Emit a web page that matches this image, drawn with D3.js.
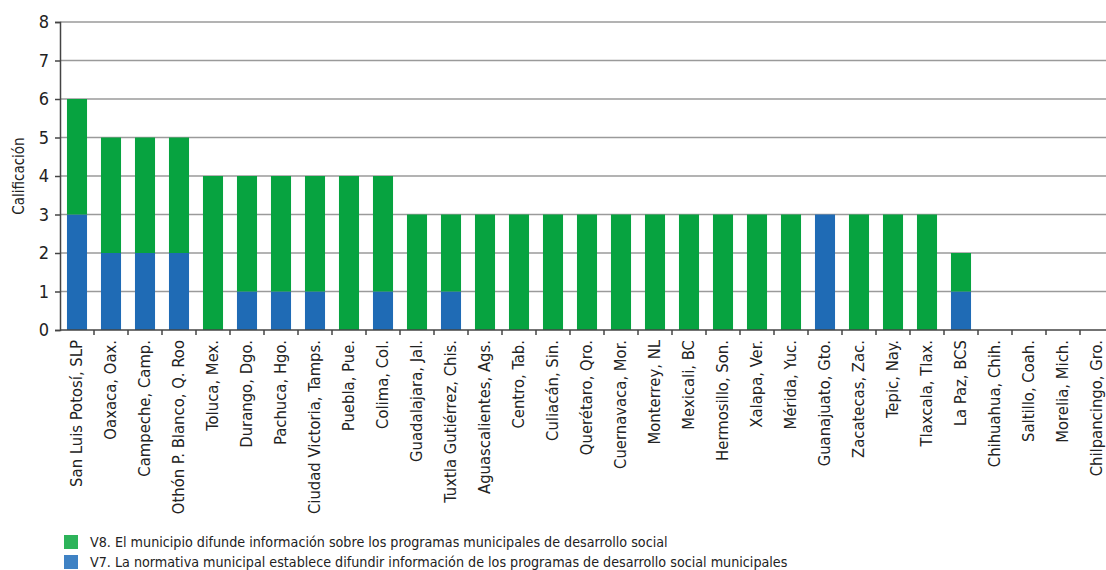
<!DOCTYPE html>
<html><head><meta charset="utf-8">
<script src="https://cdn.jsdelivr.net/npm/d3@7"></script>
<style>body{margin:0;background:#fff}svg{display:block}text{font-family:"Liberation Sans Narrow","DejaVu Sans Condensed",sans-serif;fill:#222}</style>
</head><body><svg id="c" width="1106" height="570"></svg>
<script>
const categories = ["San Luis Potosí, SLP","Oaxaca, Oax.","Campeche, Camp.","Othón P. Blanco, Q. Roo","Toluca, Mex.","Durango, Dgo.","Pachuca, Hgo.","Ciudad Victoria, Tamps.","Puebla, Pue.","Colima, Col.","Guadalajara, Jal.","Tuxtla Gutiérrez, Chis.","Aguascalientes, Ags.","Centro, Tab.","Culiacán, Sin.","Querétaro, Qro.","Cuernavaca, Mor.","Monterrey, NL","Mexicali, BC","Hermosillo, Son.","Xalapa, Ver.","Mérida, Yuc.","Guanajuato, Gto.","Zacatecas, Zac.","Tepic, Nay.","Tlaxcala, Tlax.","La Paz, BCS","Chihuahua, Chih.","Saltillo, Coah.","Morelia, Mich.","Chilpancingo, Gro."];
const v7 = [3,2,2,2,0,1,1,1,0,1,0,1,0,0,0,0,0,0,0,0,0,0,3,0,0,0,1,0,0,0,0];
const v8 = [3,3,3,3,4,3,3,3,4,3,3,2,3,3,3,3,3,3,3,3,3,3,0,3,3,3,1,0,0,0,0];
const yTicks = [0,1,2,3,4,5,6,7,8];
const seriesNames = ["V8. El municipio difunde información sobre los programas municipales de desarrollo social","V7. La normativa municipal establece difundir información de los programas de desarrollo social municipales"];
const barColors = {v7:"#1f6bb5", v8:"#07a340"};
const legendColors = ["#2db35a","#3f82c4"];

const svg = d3.select("#c");
const mLeft = 60, mTop = 22, mBottom = 330, step = 34;
const x = d3.scaleBand().domain(categories).range([mLeft, mLeft + step*categories.length]).paddingInner(0.41).paddingOuter(0.205);
const y = d3.scaleLinear().domain([0,8]).range([mBottom, mTop]);

// gridlines
svg.append("g").selectAll("line").data(yTicks.filter(d=>d>0)).join("line")
  .attr("x1", mLeft).attr("x2", 1106).attr("y1", d=>y(d)).attr("y2", d=>y(d))
  .attr("stroke","#9a9a9a").attr("stroke-width",1.6);

// bars
const data = categories.map((c,i)=>({c, v7:v7[i], v8:v8[i]}));
const stack = d3.stack().keys(["v7","v8"])(data);
svg.append("g").selectAll("g").data(stack).join("g").attr("fill", s=>barColors[s.key])
  .selectAll("rect").data(s=>s).join("rect")
  .attr("x", d=>x(d.data.c)).attr("width", x.bandwidth())
  .attr("y", d=>y(d[1])).attr("height", d=>y(d[0])-y(d[1]));

// y axis
const ya = svg.append("g").attr("transform",`translate(${mLeft},0)`)
  .call(d3.axisLeft(y).tickValues(yTicks).tickSize(5).tickPadding(6));
ya.select(".domain").attr("stroke","#444").attr("stroke-width",1.5);
ya.selectAll(".tick line").attr("stroke","#444").attr("stroke-width",1.5);
ya.selectAll(".tick text").attr("font-size",18).style("font-family",'"Liberation Sans Narrow","DejaVu Sans Condensed",sans-serif').attr("fill","#222");

// x axis line & ticks
svg.append("line").attr("x1",mLeft).attr("x2",1106).attr("y1",mBottom).attr("y2",mBottom).attr("stroke","#444").attr("stroke-width",1.5);
const bstep = x.step();
svg.append("g").selectAll("line").data(categories).join("line")
  .attr("x1", d=>x(d)+x.bandwidth()+(bstep-x.bandwidth())/2)
  .attr("x2", d=>x(d)+x.bandwidth()+(bstep-x.bandwidth())/2)
  .attr("y1", mBottom).attr("y2", mBottom+5).attr("stroke","#444").attr("stroke-width",1.5);

// x labels
svg.append("g").selectAll("text").data(categories).join("text")
  .attr("transform", d=>`translate(${x(d)+x.bandwidth()/2+5},${mBottom+10}) rotate(-90)`)
  .attr("text-anchor","end").attr("font-size",16.5).text(d=>d);

// y label
svg.append("text").attr("transform","translate(24,176) rotate(-90)").attr("text-anchor","middle").attr("font-size",15).text("Calificación");

// legend
const lg = svg.append("g").selectAll("g").data(seriesNames).join("g")
  .attr("transform",(d,i)=>`translate(64,${535+i*20})`);
lg.append("rect").attr("width",14).attr("height",14).attr("fill",(d,i)=>legendColors[i]);
lg.append("text").attr("x",26).attr("y",12).attr("font-size",14.2).text(d=>d);
</script></body></html>
